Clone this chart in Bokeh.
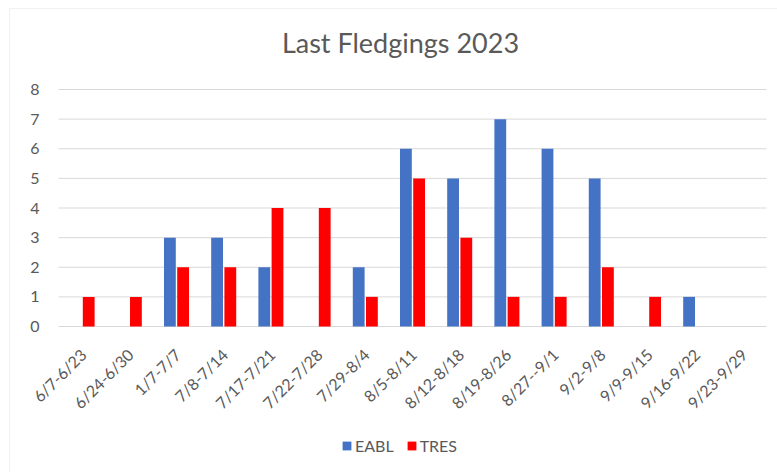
import math
import numpy as np
from bokeh.plotting import figure
from bokeh.models import (Range1d, Legend, LegendItem, ColumnDataSource,
                          BoxAnnotation)
from bokeh.core.properties import value
from bokeh.embed import file_html
from bokeh.resources import INLINE

weeks = ["6/7-6/23", "6/24-6/30", "1/7-7/7", "7/8-7/14", "7/17-7/21", "7/22-7/28",
         "7/29-8/4", "8/5-8/11", "8/12-8/18", "8/19-8/26", "8/27--9/1", "9/2-9/8",
         "9/9-9/15", "9/16-9/22", "9/23-9/29"]
eabl = [0, 0, 3, 3, 2, 0, 2, 6, 5, 7, 6, 5, 0, 1, 0]
tres = [1, 1, 2, 2, 4, 4, 1, 5, 3, 1, 1, 2, 1, 0, 0]
y_ticks = [0, 1, 2, 3, 4, 5, 6, 7, 8]
title_text = "Last Fledgings 2023"

FONT = "Lato"
GREY = "#595959"

W, H = 777, 472
# plot-area geometry in pixels
PLOT_LEFT, PLOT_RIGHT, PLOT_ZERO, PLOT_TOP = 58, 766, 326, 89
n = len(weeks)
px_per_cat = (PLOT_RIGHT - PLOT_LEFT) / n
px_per_unit = (PLOT_ZERO - PLOT_TOP) / max(y_ticks)


def px_x(px):
    return (px - PLOT_LEFT) / px_per_cat


def px_y(py):
    return (PLOT_ZERO - py) / px_per_unit


idx = np.arange(n) + 0.5  # category centres
src = ColumnDataSource(dict(week=weeks, xc=idx, eabl=eabl, tres=tres,
                            x_e=idx - 0.14, x_t=idx + 0.14, zero=[0] * n))

# The frame covers the whole canvas so that every text drawn is visible.
p = figure(width=W, height=H, output_backend="svg", toolbar_location=None,
           x_range=Range1d(px_x(0), px_x(W)), y_range=Range1d(px_y(H), px_y(0)),
           x_axis_location=None, y_axis_location=None,
           min_border_left=0, min_border_right=0, min_border_top=0,
           min_border_bottom=0)
p.outline_line_color = None
p.background_fill_color = "white"
p.border_fill_color = "white"
p.grid.grid_line_color = None

# chart border
p.add_layout(BoxAnnotation(left=px_x(9), top=px_y(8), right=px_x(W + 20),
                           bottom=px_y(H + 20), fill_alpha=0,
                           line_color="#d0d0d0", line_width=1))

# horizontal grid lines
p.segment(x0=[0] * len(y_ticks), x1=[n] * len(y_ticks), y0=y_ticks, y1=y_ticks,
          line_color="#d9d9d9", line_width=1)

r1 = p.vbar(x="x_e", top="eabl", width=0.25, source=src,
            fill_color="#4472C4", line_color=None)
r2 = p.vbar(x="x_t", top="tres", width=0.25, source=src,
            fill_color="#FF0000", line_color=None)

# value labels
p.text(x=[0] * len(y_ticks), y=y_ticks, text=[str(t) for t in y_ticks],
       x_offset=-19, text_align="right", text_baseline="middle",
       text_font=value(FONT), text_font_size="16px", text_color=GREY)

# category labels, rotated 45 degrees under the zero line
p.text(x="xc", y="zero", text="week", source=src, angle=math.pi / 4,
       text_align="right", text_baseline="middle", x_offset=1, y_offset=25,
       text_font=value(FONT), text_font_size="16px", text_color=GREY)

# chart title
p.text(x=[px_x(400)], y=[px_y(42)], text=[title_text], text_align="center",
       text_baseline="middle", text_font=value(FONT),
       text_font_size="27px", text_color=GREY)

legend = Legend(items=[LegendItem(label="EABL", renderers=[r1]),
                       LegendItem(label="TRES", renderers=[r2])],
                orientation="horizontal", location=(341, 17),
                glyph_width=11, glyph_height=11, label_standoff=3, spacing=12,
                padding=0, margin=0, border_line_color=None,
                background_fill_alpha=0,
                label_text_font=FONT, label_text_font_size="16px",
                label_text_color=GREY)
p.add_layout(legend)

open("out.html", "w").write(file_html(p, INLINE))
